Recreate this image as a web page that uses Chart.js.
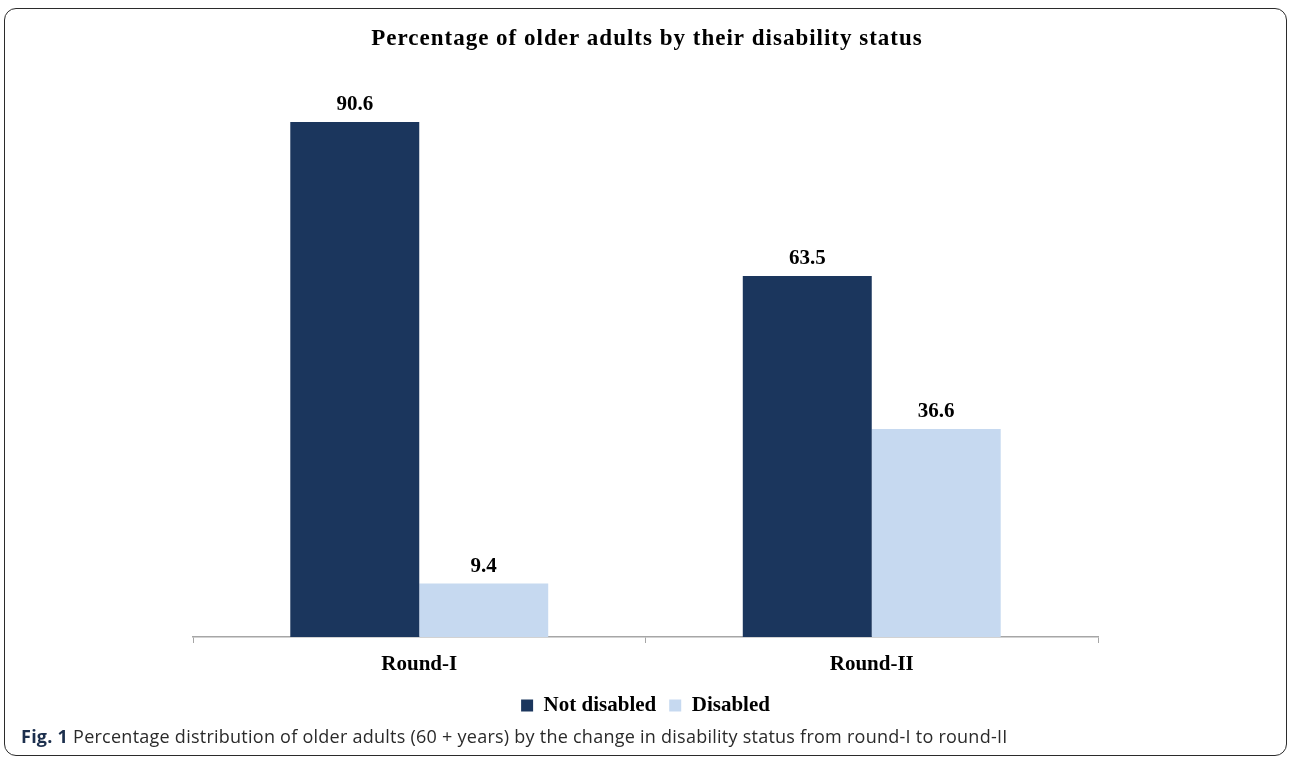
<!DOCTYPE html>
<html>
<head>
<meta charset="utf-8">
<script src="https://cdn.jsdelivr.net/npm/chart.js@4"></script>
<style>
  html, body { margin: 0; padding: 0; background: #fff; }
  #wrap { position: relative; width: 1290px; height: 759px; overflow: hidden; }
  #grafico { position: absolute; left: 0; top: 0; }
  #borda {
    position: absolute; left: 4px; top: 8px; width: 1281px; height: 746px;
    border: 1.5px solid #2b2b2b; border-radius: 12px; pointer-events: none;
  }
  #legenda {
    position: absolute; left: 21px; top: 725px; line-height: 22px; letter-spacing: 0.25px;
    font-family: "Open Sans", sans-serif; font-size: 18px; color: #2a2a2a; white-space: nowrap;
  }
  #legenda b { color: #1c2f4d; }
</style>
</head>
<body>
<div id="wrap">
  <canvas id="grafico" width="1290" height="759"></canvas>
  <div id="borda"></div>
  <div id="legenda"><b>Fig. 1</b> Percentage distribution of older adults (60 + years) by the change in disability status from round-I to round-II</div>
</div>
<script>
const rodadas = ["Round-I", "Round-II"];
const naoDeficientes = [90.6, 63.5];
const deficientes = [9.4, 36.6];
const nomesSeries = ["Not disabled", "Disabled"];
const coresSeries = ["#1b365d", "#c6d9f0"];
const tituloGrafico = "Percentage of older adults by their disability status";

const fonteSerif = "'Liberation Serif', 'Times New Roman', serif";

// titulo desenhado a mao pra poder espaçar as letras
const tituloEspacado = {
  id: "tituloEspacado",
  afterDraw(chart) {
    const ctx = chart.ctx;
    ctx.save();
    ctx.font = "bold 23px " + fonteSerif;
    ctx.letterSpacing = "1px";
    ctx.fillStyle = "#000";
    ctx.textAlign = "center";
    ctx.textBaseline = "alphabetic";
    ctx.fillText(tituloGrafico, 647, 45);
    ctx.restore();
  }
};

// escreve o valor em cima de cada barra
const rotulosBarras = {
  id: "rotulosBarras",
  afterDatasetsDraw(chart) {
    const ctx = chart.ctx;
    ctx.save();
    ctx.font = "bold 21px " + fonteSerif;
    ctx.fillStyle = "#000";
    ctx.textAlign = "center";
    ctx.textBaseline = "alphabetic";
    chart.data.datasets.forEach((ds, i) => {
      chart.getDatasetMeta(i).data.forEach((bar, j) => {
        ctx.fillText(ds.data[j].toFixed(1), bar.x, bar.y - 12);
      });
    });
    ctx.restore();
  }
};

new Chart(document.getElementById("grafico").getContext("2d"), {
  type: "bar",
  data: {
    labels: rodadas,
    datasets: [
      { label: nomesSeries[0], data: naoDeficientes, backgroundColor: coresSeries[0] },
      { label: nomesSeries[1], data: deficientes, backgroundColor: coresSeries[1] }
    ]
  },
  options: {
    responsive: false,
    animation: false,
    devicePixelRatio: 1,
    layout: { padding: { left: 193, right: 192, top: 68.5, bottom: 33 } },
    datasets: { bar: { categoryPercentage: 0.57, barPercentage: 1 } },
    scales: {
      x: {
        grid: { display: true, drawOnChartArea: false, drawTicks: true, tickLength: 6, color: "#a6a6a6", offset: true },
        border: { display: true, color: "#a6a6a6", width: 1.5 },
        ticks: { color: "#000", font: { family: fonteSerif, size: 21, weight: "bold" }, padding: 9 },
        afterFit(scale) { scale.height = 45; }
      },
      y: { display: false, min: 0, max: 100 }
    },
    plugins: {
      title: { display: false },
      legend: {
        position: "bottom",
        labels: {
          color: "#000",
          font: { family: fonteSerif, size: 21, weight: "bold" },
          boxWidth: 12, boxHeight: 12, padding: 13
        }
      },
      tooltip: { enabled: false }
    }
  },
  plugins: [rotulosBarras, tituloEspacado]
});
</script>
</body>
</html>
